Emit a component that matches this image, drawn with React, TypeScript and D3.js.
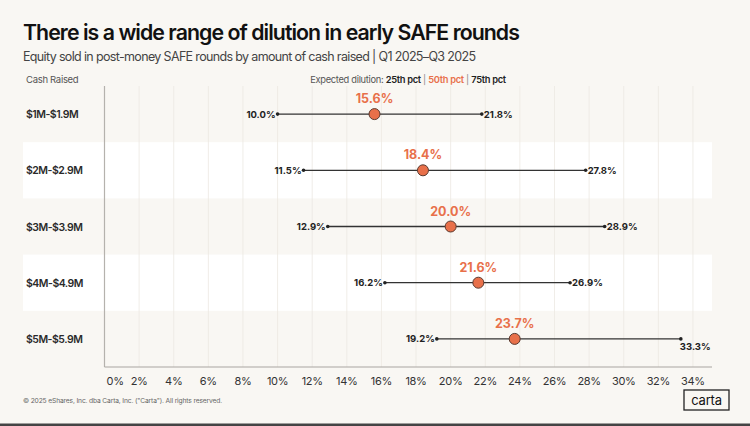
import React from "react";
import * as d3 from "d3";

const categories = ["$1M-$1.9M", "$2M-$2.9M", "$3M-$3.9M", "$4M-$4.9M", "$5M-$5.9M"];
const p25 = [10.0, 11.5, 12.9, 16.2, 19.2];
const p50 = [15.6, 18.4, 20.0, 21.6, 23.7];
const p75 = [21.8, 27.8, 28.9, 26.9, 33.3];
const xTicks = [0, 2, 4, 6, 8, 10, 12, 14, 16, 18, 20, 22, 24, 26, 28, 30, 32, 34];

const W = 750;
const H = 426;
const FONT = "Inter, 'Open Sans', sans-serif";
const BG = "#f9f7f3";
const ORANGE = "#e8704a";
const DARK = "#222";

export default function App() {
  const x = d3.scaleLinear().domain([0, 35.1]).range([104.5, 712]);
  const y = d3.scaleBand<string>().domain(categories).range([86, 367]).padding(0);
  const bw = y.bandwidth();

  return (
    <svg
      width={W}
      height={H}
      style={{ position: "absolute", left: 0, top: 0, fontFamily: FONT }}
    >
      <rect x={0} y={0} width={W} height={H} fill={BG} />
      <rect x={0} y={H - 2.5} width={W} height={2.5} fill="#444" />

      <text x={23} y={40} fontSize={21.3} fontWeight={600} fill="#111" letterSpacing={-0.95}>
        There is a wide range of dilution in early SAFE rounds
      </text>
      <text x={23} y={61} fontSize={12.5} fill="#444" letterSpacing={-0.65}>
        Equity sold in post-money SAFE rounds by amount of cash raised | Q1 2025–Q3 2025
      </text>

      <text x={26} y={83} fontSize={9.5} fill="#555" letterSpacing={-0.3}>
        Cash Raised
      </text>
      <text x={408} y={83} fontSize={9.3} fill="#555" textAnchor="middle" letterSpacing={-0.3}>
        Expected dilution:{" "}
        <tspan fontWeight={600} fill={DARK}>25th pct</tspan>
        <tspan fill="#888"> | </tspan>
        <tspan fontWeight={600} fill={ORANGE}>50th pct</tspan>
        <tspan fill="#888"> | </tspan>
        <tspan fontWeight={600} fill={DARK}>75th pct</tspan>
      </text>

      {categories.map((c, i) =>
        i % 2 === 1 ? (
          <rect key={c} x={23} y={y(c)!} width={712 - 23} height={bw} fill="#ffffff" />
        ) : null
      )}

      {xTicks.slice(1).map((t) => (
        <line key={t} x1={x(t)} x2={x(t)} y1={86} y2={367} stroke="#ece8e2" strokeWidth={0.8} />
      ))}

      <line x1={x(0)} x2={x(0)} y1={86} y2={367} stroke="#b5b2ad" strokeWidth={1.2} />
      <line x1={x(0)} x2={712} y1={367} y2={367} stroke="#a9a6a1" strokeWidth={1.2} />

      {xTicks.map((t) => (
        <text
          key={t}
          x={t === 0 ? x(t) + 2 : x(t)}
          y={385}
          fontSize={11}
          fill="#333"
          textAnchor={t === 0 ? "start" : "middle"}
          letterSpacing={-0.3}
        >
          {t}%
        </text>
      ))}

      {categories.map((c, i) => {
        const cy = y(c)! + bw / 2;
        const last = p75[i] > 32;
        return (
          <g key={c}>
            <text x={26} y={cy + 4} fontSize={10.5} fontWeight={600} fill="#2a2a2a" letterSpacing={-0.5}>
              {c}
            </text>
            <line x1={x(p25[i])} x2={x(p75[i])} y1={cy} y2={cy} stroke="#333" strokeWidth={1.3} />
            <circle cx={x(p25[i])} cy={cy} r={1.8} fill="#222" />
            <circle cx={x(p75[i])} cy={cy} r={1.8} fill="#222" />
            <circle cx={x(p50[i])} cy={cy} r={5.5} fill={ORANGE} stroke="#5a3a30" strokeWidth={1} />
            <text
              x={x(p50[i])}
              y={cy - 11}
              fontSize={12.5}
              fontWeight={700}
              fill={ORANGE}
              textAnchor="middle"
            >
              {p50[i].toFixed(1)}%
            </text>
            <text
              x={x(p25[i]) - 2}
              y={cy + 3.5}
              fontSize={9.5}
              fontWeight={700}
              fill={DARK}
              textAnchor="end"
            >
              {p25[i].toFixed(1)}%
            </text>
            <text
              x={last ? x(p75[i]) - 1 : x(p75[i]) + 2}
              y={last ? cy + 11 : cy + 3.5}
              fontSize={9.5}
              fontWeight={700}
              fill={DARK}
              textAnchor="start"
            >
              {p75[i].toFixed(1)}%
            </text>
          </g>
        );
      })}

      <text x={23} y={403} fontSize={6.7} fill="#666" letterSpacing={-0.15}>
        © 2025 eShares, Inc. dba Carta, Inc. ("Carta"). All rights reserved.
      </text>

      <rect x={684} y={390} width={45} height={20} fill="none" stroke="#222" strokeWidth={1.3} />
      <text x={706.5} y={404.5} fontSize={13} fill="#111" textAnchor="middle" letterSpacing={-0.2}>
        carta
      </text>
    </svg>
  );
}
